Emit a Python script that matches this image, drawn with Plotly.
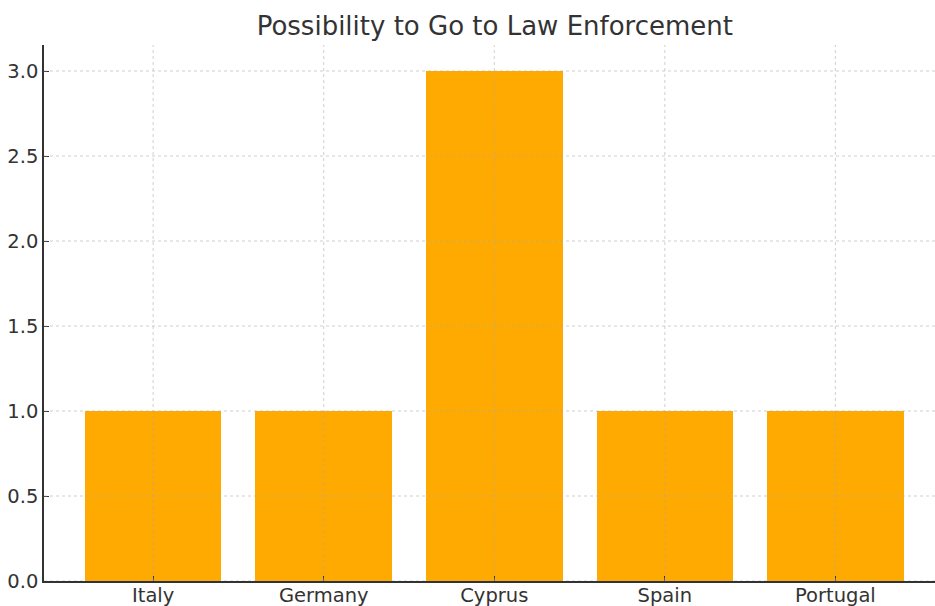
import plotly.graph_objects as go

countries = ["Italy", "Germany", "Cyprus", "Spain", "Portugal"]
values = [1, 1, 3, 1, 1]
y_ticks = [0.0, 0.5, 1.0, 1.5, 2.0, 2.5, 3.0]

BAR_COLOR = "#FFAA00"
TEXT_COLOR = "#333333"
GRID_COLOR = "rgba(170,170,170,0.55)"
FONT = "DejaVu Sans"

fig = go.Figure(go.Bar(x=countries, y=values, width=0.8, marker=dict(color=BAR_COLOR, line=dict(width=0))))

shapes = []
for v in y_ticks:
    shapes.append(dict(type="line", xref="paper", yref="y", x0=0, x1=1, y0=v, y1=v,
                       line=dict(color=GRID_COLOR, width=1, dash="dot"), layer="above"))
for c in countries:
    shapes.append(dict(type="line", xref="x", yref="paper", x0=c, x1=c, y0=0, y1=1,
                       line=dict(color=GRID_COLOR, width=1, dash="dot"), layer="above"))

fig.update_layout(
    width=935, height=606,
    margin=dict(l=44, r=0, t=45, b=25, autoexpand=False),
    paper_bgcolor="white", plot_bgcolor="white",
    font=dict(family=FONT, color=TEXT_COLOR, size=19),
    title=dict(text="Possibility to Go to Law Enforcement", x=0.506, xref="paper", xanchor="center",
               y=1 - 26 / 606, yanchor="middle", font=dict(size=26, color=TEXT_COLOR)),
    showlegend=False,
    shapes=shapes,
    bargap=0,
)
fig.update_xaxes(type="category", range=[-0.64, 4.584], showgrid=False, zeroline=False,
                 automargin=False, layer="above traces",
                 showline=True, linecolor="#333333", linewidth=1.5,
                 ticks="inside", ticklen=5, tickcolor="#333333", tickwidth=1,
                 ticklabelstandoff=-4,
                 tickfont=dict(size=19.5, color=TEXT_COLOR))
fig.update_yaxes(range=[0, 3.153], tickvals=y_ticks, tickformat=".1f", showgrid=False, zeroline=False,
                 automargin=False, layer="above traces",
                 showline=True, linecolor="#333333", linewidth=1.5,
                 ticks="inside", ticklen=5, tickcolor="#333333", tickwidth=1,
                 tickfont=dict(size=19.5, color=TEXT_COLOR))

fig.write_html("out.html", config={"displayModeBar": False},
               post_script="document.body.style.margin='0';document.body.style.overflow='hidden';")
